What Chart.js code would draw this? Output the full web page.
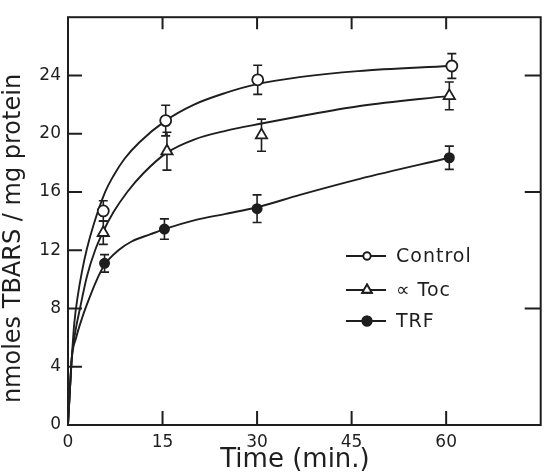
<!DOCTYPE html>
<html><head><meta charset="utf-8">
<script src="https://cdn.jsdelivr.net/npm/chart.js@4.4.1/dist/chart.umd.min.js"></script>
<style>html,body{margin:0;padding:0;background:#fff}#wrap{width:549px;height:476px}</style>
</head><body><div id="wrap"><canvas id="c" width="549" height="476"></canvas></div>
<script>
// ---- data ----
const xTickValues = [0, 15, 30, 45, 60];
const yTickValues = [0, 4, 8, 12, 16, 20, 24];
const topTickValues = [15, 30, 45, 60];
const leftTickValues = [4, 8, 12, 16, 20, 24];
const rightTickValues = [8, 16, 24];
const xTitle = 'Time (min.)';
const yTitle = 'nmoles TBARS / mg protein';
const seriesNames = ['Control', '\u221D Toc', 'TRF'];

// measured points (min, nmoles) and error half-widths
const controlT = [5.6, 15.5, 30.1, 60.9];
const controlV = [14.7, 20.9, 23.7, 24.65];
const controlErr = [0.7, 1.05, 1.0, 0.85];
const tocT = [5.6, 15.7, 30.7, 60.5];
const tocV = [13.2, 18.8, 19.9, 22.6];
const tocErr = [0.8, 1.3, 1.1, 0.95];
const trfT = [5.8, 15.3, 30.0, 60.5];
const trfV = [11.1, 13.45, 14.85, 18.35];
const trfErr = [0.6, 0.7, 0.95, 0.8];

// fitted curves
const controlCurveT = [0, 0.3, 0.6, 1.0, 1.6, 2.2, 3.0, 4.1, 5.9, 7.2, 9, 11.3, 15.5, 20, 25, 30, 37, 46, 60.5];
const controlCurveV = [0, 2.4, 4.6, 7.0, 9.0, 10.5, 12.1, 13.8, 16, 17.1, 18.3, 19.4, 20.9, 22.0, 22.8, 23.4, 23.9, 24.3, 24.65];
const tocCurveT = [0, 0.3, 0.6, 1.2, 1.9, 3.0, 4.3, 5.6, 7.2, 9.4, 12, 15.7, 20, 25, 30.7, 36.8, 46.3, 60.5];
const tocCurveV = [0, 2.4, 4.6, 6.5, 8.0, 10.2, 12, 13.3, 14.6, 16, 17.3, 18.7, 19.6, 20.2, 20.7, 21.2, 21.9, 22.6];
const trfCurveT = [0, 0.3, 0.6, 1.3, 2.2, 3.2, 4.5, 5.8, 8, 10.1, 13.1, 15.3, 20, 25, 30, 36.8, 46.3, 60.5];
const trfCurveV = [0, 2.4, 4.6, 6.0, 7.3, 8.5, 9.9, 11.0, 12.0, 12.6, 13.1, 13.45, 14.05, 14.5, 14.95, 15.8, 16.9, 18.35];

const INK = '#1e1e1e';
const FONT = '"DejaVu Sans", sans-serif';
Chart.defaults.font.family = FONT;
Chart.defaults.color = INK;

const zip = (t, v) => t.map((x, i) => ({x, y: v[i]}));
const pointStyles = ['circle', 'triangle', 'circle'];
const pointFills = ['#ffffff', '#ffffff', INK];
const pointRadii = [5.5, 6.5, 4.6];
const markerT = [controlT, tocT, trfT];
const markerV = [controlV, tocV, trfV];
const markerE = [controlErr, tocErr, trfErr];
const curveT = [controlCurveT, tocCurveT, trfCurveT];
const curveV = [controlCurveV, tocCurveV, trfCurveV];

const datasets = [];
for (let i = 0; i < 3; i++) {
  datasets.push({
    label: seriesNames[i], data: zip(markerT[i], markerV[i]), showLine: false,
    pointStyle: pointStyles[i], pointRadius: pointRadii[i], pointBackgroundColor: pointFills[i],
    pointBorderColor: INK, pointBorderWidth: 1.8, order: 0, errors: markerE[i]
  });
}
for (let i = 0; i < 3; i++) {
  datasets.push({
    label: seriesNames[i] + ' fit', data: zip(curveT[i], curveV[i]), showLine: true,
    borderColor: INK, borderWidth: 1.9, pointRadius: 0, fill: false,
    cubicInterpolationMode: 'monotone', order: 1
  });
}

const errorBars = {
  id: 'errorBars',
  beforeDatasetsDraw(chart) {
    const {ctx, scales: {x, y}} = chart;
    ctx.save();
    ctx.strokeStyle = INK; ctx.lineWidth = 1.6;
    chart.data.datasets.forEach(ds => {
      if (!ds.errors) return;
      ds.data.forEach((p, j) => {
        const px = x.getPixelForValue(p.x);
        const top = y.getPixelForValue(p.y + ds.errors[j]);
        const bot = y.getPixelForValue(p.y - ds.errors[j]);
        ctx.beginPath();
        ctx.moveTo(px, top); ctx.lineTo(px, bot);
        ctx.moveTo(px - 4.5, top); ctx.lineTo(px + 4.5, top);
        ctx.moveTo(px - 4.5, bot); ctx.lineTo(px + 4.5, bot);
        ctx.stroke();
      });
    });
    ctx.restore();
  }
};

const frame = {
  id: 'frame',
  afterDraw(chart) {
    const {ctx, chartArea: a, scales: {x, y}} = chart;
    const L = 14;
    ctx.save();
    ctx.strokeStyle = INK; ctx.lineWidth = 2;
    ctx.strokeRect(a.left, a.top, a.right - a.left, a.bottom - a.top);
    ctx.beginPath();
    xTickValues.filter(v => v > 0).forEach(v => {
      const px = x.getPixelForValue(v);
      ctx.moveTo(px, a.bottom); ctx.lineTo(px, a.bottom - L);
    });
    topTickValues.forEach(v => {
      const px = x.getPixelForValue(v);
      ctx.moveTo(px, a.top); ctx.lineTo(px, a.top + 12);
    });
    leftTickValues.forEach(v => {
      const py = y.getPixelForValue(v);
      ctx.moveTo(a.left, py); ctx.lineTo(a.left + L, py);
    });
    rightTickValues.forEach(v => {
      const py = y.getPixelForValue(v);
      ctx.moveTo(a.right, py); ctx.lineTo(a.right - 16, py);
    });
    ctx.stroke();

    // axis titles
    ctx.fillStyle = INK;
    ctx.font = '26px ' + FONT;
    ctx.textAlign = 'center'; ctx.textBaseline = 'alphabetic';
    ctx.fillText(xTitle, 295, 467);
    ctx.save();
    ctx.translate(20, 238.5);
    ctx.rotate(-Math.PI / 2);
    ctx.font = '24px ' + FONT;
    ctx.fillText(yTitle, 0, 0);
    ctx.restore();

    // legend inside plot
    const rows = [256, 290, 321];
    for (let i = 0; i < 3; i++) {
      const ds = chart.data.datasets[i];
      const ry = rows[i];
      ctx.beginPath();
      ctx.lineWidth = 1.8;
      ctx.moveTo(346, ry); ctx.lineTo(386, ry);
      ctx.stroke();
      Chart.helpers.drawPoint(ctx, {
        pointStyle: ds.pointStyle, radius: i === 0 ? 3.6 : (i === 1 ? 5.5 : 4.6),
        borderWidth: 1.6, rotation: 0
      }, 367, ry);
      ctx.fillStyle = ds.pointBackgroundColor; ctx.strokeStyle = INK;
      ctx.fill(); ctx.stroke();
      ctx.fillStyle = INK;
      ctx.font = '19px ' + FONT;
      ctx.letterSpacing = '1px';
      ctx.textAlign = 'left'; ctx.textBaseline = 'middle';
      ctx.fillText(ds.label, 396, ry + 1);
      ctx.letterSpacing = '0px';
    }
    ctx.restore();
  }
};

new Chart(document.getElementById('c'), {
  type: 'line',
  data: {datasets},
  options: {
    responsive: false, animation: false, devicePixelRatio: 1,
    layout: {padding: {top: 14, right: 7, left: 0, bottom: 0}},
    plugins: {legend: {display: false}, tooltip: {enabled: false}},
    scales: {
      x: {
        type: 'linear', min: 0, max: 75,
        afterBuildTicks: s => { s.ticks = xTickValues.map(v => ({value: v})); },
        afterFit: s => { s.height = 51; },
        grid: {display: false, drawTicks: false}, border: {display: false},
        ticks: {font: {size: 17}, color: INK, padding: 7, maxRotation: 0}
      },
      y: {
        type: 'linear', min: 0, max: 28,
        afterBuildTicks: s => { s.ticks = yTickValues.map(v => ({value: v})); },
        afterFit: s => { s.width = 68; },
        grid: {display: false, drawTicks: false}, border: {display: false},
        ticks: {font: {size: 17}, color: INK, padding: 7}
      }
    }
  },
  plugins: [errorBars, frame]
});
</script></body></html>
